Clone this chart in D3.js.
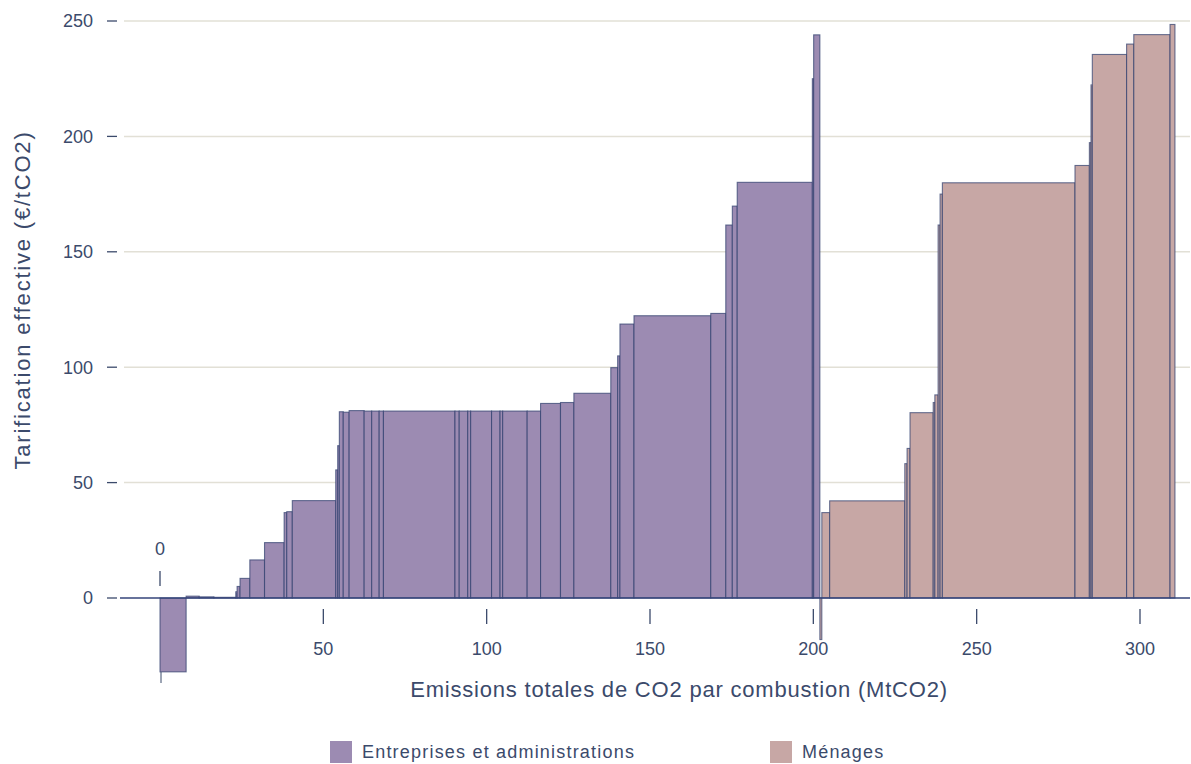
<!DOCTYPE html>
<html lang="fr">
<head>
<meta charset="utf-8"/>
<title>Tarification effective du CO2</title>
<script src="https://d3js.org/d3.v7.min.js"></script>
<style>
  body { margin: 0; background: #fff; }
  text { font-family: "Liberation Sans", Arial, sans-serif; fill: #3b4a6b; }
  .grid line { stroke: #e2e0d6; stroke-width: 1.5; }
  .bar { stroke: #2e3d6c; stroke-opacity: 0.7; stroke-width: 1.1; }
</style>
</head>
<body>
<div id="chart"></div>
<script>
// widths of each emission block (MtCO2) and its effective price (EUR/tCO2)
var entWidths = [8, 4, 4.5, 6.7, 0.4, 0.9, 3, 4.5, 6, 0.8, 1.7, 13.3, 0.6, 0.5, 1.2, 1.8, 4.6, 2.3, 2.3, 1.3,
                 21.9, 1.3, 2.6, 0.9, 6.4, 2.6, 0.8, 7.5, 4.1, 6.1, 4.1, 11.3, 2.1, 0.7, 4.3, 23.5, 4.6, 2.0, 1.5, 23.0, 0.4, 1.9];
var entPrices = [-32, 0.8, 0.5, 0.3, 2.7, 5, 8.5, 16.5, 24, 37, 37.4, 42.2, 55.5, 66, 80.7, 80.5, 81.2, 81, 81, 81,
                 81, 81, 81, 81, 81, 81, 81, 81, 81, 84.3, 84.7, 88.7, 99.8, 104.9, 118.7, 122.3, 123.3, 161.6, 169.8, 180.1, 225, 244];

var menWidths = [0.6, 2.4, 23, 0.7, 0.9, 7.1, 0.5, 1.0, 0.6, 0.7, 40.6, 4.4, 0.5, 0.4, 10.5, 2.2, 11.1, 1.5];
var menPrices = [-18, 37, 42.1, 58.2, 64.8, 80.3, 84.7, 88, 161.6, 175, 179.9, 187.4, 197.3, 222.3, 235.5, 240, 244.1, 248.5];

var seriesNames = ["Entreprises et administrations", "Ménages"];
var seriesColors = ["#9c8bb2", "#c7a7a5"];
var xTicks = [50, 100, 150, 200, 250, 300];
var yTicks = [0, 50, 100, 150, 200, 250];

var width = 1191, height = 764;

var svg = d3.select("#chart").append("svg")
  .attr("width", width)
  .attr("height", height);

var x = d3.scaleLinear().domain([0, 300]).range([160, 1140]);
var y = d3.scaleLinear().domain([0, 250]).range([598, 21]);

// gridlines
svg.append("g").attr("class", "grid")
  .selectAll("line")
  .data(yTicks.filter(function(d) { return d > 0; }))
  .enter().append("line")
    .attr("x1", 124).attr("x2", 1190)
    .attr("y1", function(d) { return y(d); })
    .attr("y2", function(d) { return y(d); });

// y ticks + labels
var yAxis = svg.append("g");
yAxis.selectAll("line")
  .data(yTicks).enter().append("line")
    .attr("x1", 107).attr("x2", 117)
    .attr("y1", function(d) { return y(d); })
    .attr("y2", function(d) { return y(d); })
    .attr("stroke", "#3b4a6b").attr("stroke-width", 1.3);
yAxis.selectAll("text")
  .data(yTicks).enter().append("text")
    .attr("x", 93)
    .attr("y", function(d) { return y(d); })
    .attr("dy", "0.35em")
    .attr("text-anchor", "end")
    .style("font-size", "18px")
    .text(function(d) { return d; });

// build blocks from the widths
function blocks(widths, prices, start, s) {
  var out = [], cur = start;
  widths.forEach(function(w, i) {
    out.push({ x0: cur, x1: cur + w, p: prices[i], s: s });
    cur += w;
  });
  return out;
}
var ent = blocks(entWidths, entPrices, 0, 0);
var entEnd = d3.sum(entWidths);
var men = blocks(menWidths, menPrices, entEnd, 1);

svg.append("g")
  .selectAll("rect")
  .data(ent.concat(men))
  .enter().append("rect")
    .attr("class", "bar")
    .attr("x", function(d) { return x(d.x0); })
    .attr("width", function(d) { return x(d.x1) - x(d.x0); })
    .attr("y", function(d) { return y(Math.max(0, d.p)); })
    .attr("height", function(d) { return Math.abs(y(d.p) - y(0)); })
    .attr("fill", function(d) { return seriesColors[d.s]; });

// x axis line
svg.append("line")
  .attr("x1", 120).attr("x2", 1190)
  .attr("y1", y(0)).attr("y2", y(0))
  .attr("stroke", "#34447a").attr("stroke-width", 1.5);

var xAxis = svg.append("g");
xAxis.selectAll("line")
  .data(xTicks).enter().append("line")
    .attr("x1", function(d) { return x(d); })
    .attr("x2", function(d) { return x(d); })
    .attr("y1", 609).attr("y2", 624)
    .attr("stroke", "#3b4a6b").attr("stroke-width", 1.3);
xAxis.selectAll("text")
  .data(xTicks).enter().append("text")
    .attr("x", function(d) { return x(d); })
    .attr("y", 655)
    .attr("text-anchor", "middle")
    .style("font-size", "18px")
    .text(function(d) { return d; });

// the zero tick sits above the axis
xAxis.append("line")
  .attr("x1", x(0)).attr("x2", x(0))
  .attr("y1", 571).attr("y2", 586)
  .attr("stroke", "#3b4a6b").attr("stroke-width", 1.3);
xAxis.append("line")
  .attr("x1", x(0) + 1).attr("x2", x(0) + 1)
  .attr("y1", 672).attr("y2", 683)
  .attr("stroke", "#3b4a6b").attr("stroke-width", 1);
xAxis.append("text")
  .attr("x", x(0)).attr("y", 555)
  .attr("text-anchor", "middle")
  .style("font-size", "18px")
  .text("0");

// axis titles
svg.append("text")
  .attr("x", 679).attr("y", 697)
  .attr("text-anchor", "middle")
  .style("font-size", "22px")
  .style("letter-spacing", "0.8px")
  .text("Emissions totales de CO2 par combustion (MtCO2)");

svg.append("text")
  .attr("transform", "translate(30,300) rotate(-90)")
  .attr("text-anchor", "middle")
  .style("font-size", "22px")
  .style("letter-spacing", "1.8px")
  .text("Tarification effective (€/tCO2)");

// legend
var legendX = [330, 770];
var legend = svg.append("g")
  .selectAll("g")
  .data(seriesNames)
  .enter().append("g")
    .attr("transform", function(d, i) { return "translate(" + legendX[i] + ",741)"; });
legend.append("rect")
  .attr("width", 22).attr("height", 22)
  .attr("fill", function(d, i) { return seriesColors[i]; });
legend.append("text")
  .attr("x", 32).attr("y", 11)
  .attr("dy", "0.35em")
  .style("font-size", "18px")
  .style("letter-spacing", "1.2px")
  .text(function(d) { return d; });
</script>
</body>
</html>
